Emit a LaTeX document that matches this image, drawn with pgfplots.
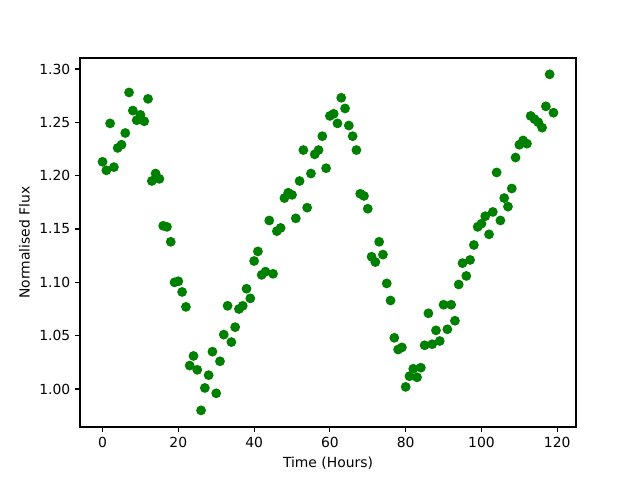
\documentclass[border=0pt]{standalone}
\usepackage{fontspec}
\setmainfont{DejaVu Sans}
\usepackage{pgfplots}
\pgfplotsset{compat=1.18}
\definecolor{mplgreen}{HTML}{008000}
\begin{document}
\begin{tikzpicture}
\path[use as bounding box] (-57.6pt,-38.16pt) rectangle (403.2pt,307.44pt);
\begin{axis}[
  at={(0,0)}, anchor=south west,
  scale only axis,
  width=357.12pt, height=265.68pt,
  xmin=-5.95, xmax=124.95,
  ymin=0.9644, ymax=1.3103,
  xtick={0,20,40,60,80,100,120},
  ytick={1.00,1.05,1.10,1.15,1.20,1.25,1.30},
  yticklabel style={/pgf/number format/.cd,fixed,fixed zerofill,precision=2},
  /pgf/number format/assume math mode=true,
  tick align=outside,
  major tick length=3.5pt,
  every tick/.style={black, line width=0.8pt},
  axis line style={line width=0.8pt},
  tick label style={font=\fontsize{10}{12}\selectfont},
  label style={font=\fontsize{10}{12}\selectfont},
  xtick pos=bottom, ytick pos=left,
  xlabel={Time (Hours)},
  ylabel={Normalised Flux},
  clip=false,
]
\addplot[only marks, mark=*, mark size=3pt, color=mplgreen, mark options={fill=mplgreen, draw=mplgreen, line width=1pt}] coordinates {
(0,1.213)(1,1.205)(2,1.249)(3,1.208)(4,1.226)(5,1.229)(6,1.240)(7,1.278)(8,1.261)(9,1.252)
(10,1.257)(11,1.251)(12,1.272)(13,1.195)(14,1.202)(15,1.197)(16,1.153)(17,1.152)(18,1.138)(19,1.100)
(20,1.101)(21,1.091)(22,1.077)(23,1.022)(24,1.031)(25,1.018)(26,0.980)(27,1.001)(28,1.013)(29,1.035)
(30,0.996)(31,1.026)(32,1.051)(33,1.078)(34,1.044)(35,1.058)(36,1.075)(37,1.078)(38,1.094)(39,1.085)
(40,1.120)(41,1.129)(42,1.107)(43,1.110)(44,1.158)(45,1.108)(46,1.148)(47,1.151)(48,1.179)(49,1.184)
(50,1.182)(51,1.160)(52,1.195)(53,1.224)(54,1.170)(55,1.202)(56,1.220)(57,1.224)(58,1.237)(59,1.207)
(60,1.256)(61,1.258)(62,1.249)(63,1.273)(64,1.263)(65,1.247)(66,1.237)(67,1.224)(68,1.183)(69,1.181)
(70,1.169)(71,1.124)(72,1.119)(73,1.138)(74,1.126)(75,1.099)(76,1.083)(77,1.048)(78,1.037)(79,1.039)
(80,1.002)(81,1.012)(82,1.019)(83,1.011)(84,1.020)(85,1.041)(86,1.071)(87,1.042)(88,1.055)(89,1.045)
(90,1.079)(91,1.056)(92,1.079)(93,1.064)(94,1.098)(95,1.118)(96,1.106)(97,1.121)(98,1.135)(99,1.152)
(100,1.155)(101,1.162)(102,1.145)(103,1.166)(104,1.203)(105,1.158)(106,1.179)(107,1.171)(108,1.188)(109,1.217)
(110,1.229)(111,1.233)(112,1.230)(113,1.256)(114,1.253)(115,1.250)(116,1.245)(117,1.265)(118,1.295)(119,1.259)
};
\end{axis}
\end{tikzpicture}
\end{document}
